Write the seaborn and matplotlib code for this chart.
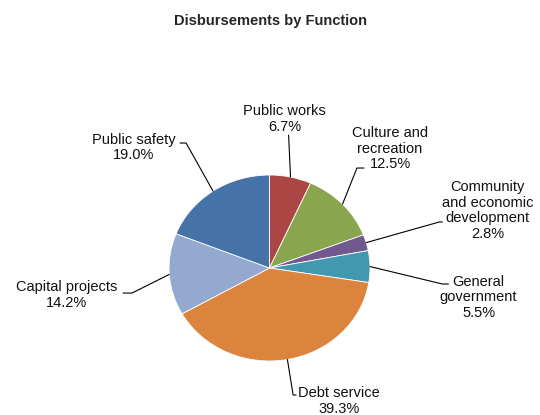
import numpy as np
import matplotlib
matplotlib.use("Agg")
import matplotlib.pyplot as plt
import seaborn as sns

# ---- data ----
categories = [
    "Public works",
    "Culture and\nrecreation",
    "Community\nand economic\ndevelopment",
    "General\ngovernment",
    "Debt service",
    "Capital projects",
    "Public safety",
]
shares = [6.7, 12.5, 2.8, 5.5, 39.3, 14.2, 19.0]
slice_colors = ["#AA4644", "#89A54E", "#71588F", "#4198AF",
                "#DB843D", "#93A9CF", "#4572A7"]

# label layout (axes data units, pie radius = 1)
label_xy = [(0.15, 1.60), (1.20, 1.285), (2.17, 0.62), (2.08, -0.317),
            (0.69, -1.43), (-2.02, -0.29), (-1.35, 1.296)]
knee_xy = [(0.19, 1.43), (0.87, 1.075), (1.69, 0.495), (1.72, -0.172),
           (0.235, -1.366), (-1.368, -0.269), (-0.83, 1.344)]
end_xy = [(0.19, 1.43), (0.94, 1.075), (1.72, 0.495), (1.78, -0.172),
          (0.265, -1.366), (-1.458, -0.269), (-0.89, 1.344)]

sns.set_theme(style="white")
plt.rcParams["font.family"] = ["Liberation Sans", "DejaVu Sans"]

fig = plt.figure(figsize=(5.4, 4.15), dpi=100)
ax = fig.add_axes([0.3130, 0.1301, 0.3722, 0.4482])

palette = sns.color_palette(slice_colors)
wedges, _ = ax.pie(shares, colors=palette, startangle=90, counterclock=False,
                   wedgeprops=dict(edgecolor="white", linewidth=0.6))
ax.set_aspect("auto")
ax.set_xlim(-1, 1)
ax.set_ylim(-1, 1)
ax.axis("off")

for w, cat, val, lxy, kxy, exy in zip(wedges, categories, shares,
                                      label_xy, knee_xy, end_xy):
    mid = np.deg2rad((w.theta1 + w.theta2) / 2)
    px, py = np.cos(mid), np.sin(mid)
    ax.plot([px, kxy[0], exy[0]], [py, kxy[1], exy[1]], color="black",
            lw=0.8, clip_on=False)
    ax.text(lxy[0], lxy[1], f"{cat}\n{val:.1f}%", ha="center", va="center",
            fontsize=10.5, linespacing=1.15, color="#111111")

fig.text(0.501, 0.949, "Disbursements by Function", ha="center", va="center",
         fontsize=10.5, fontweight="bold")

fig.savefig("out.png", dpi=100)
